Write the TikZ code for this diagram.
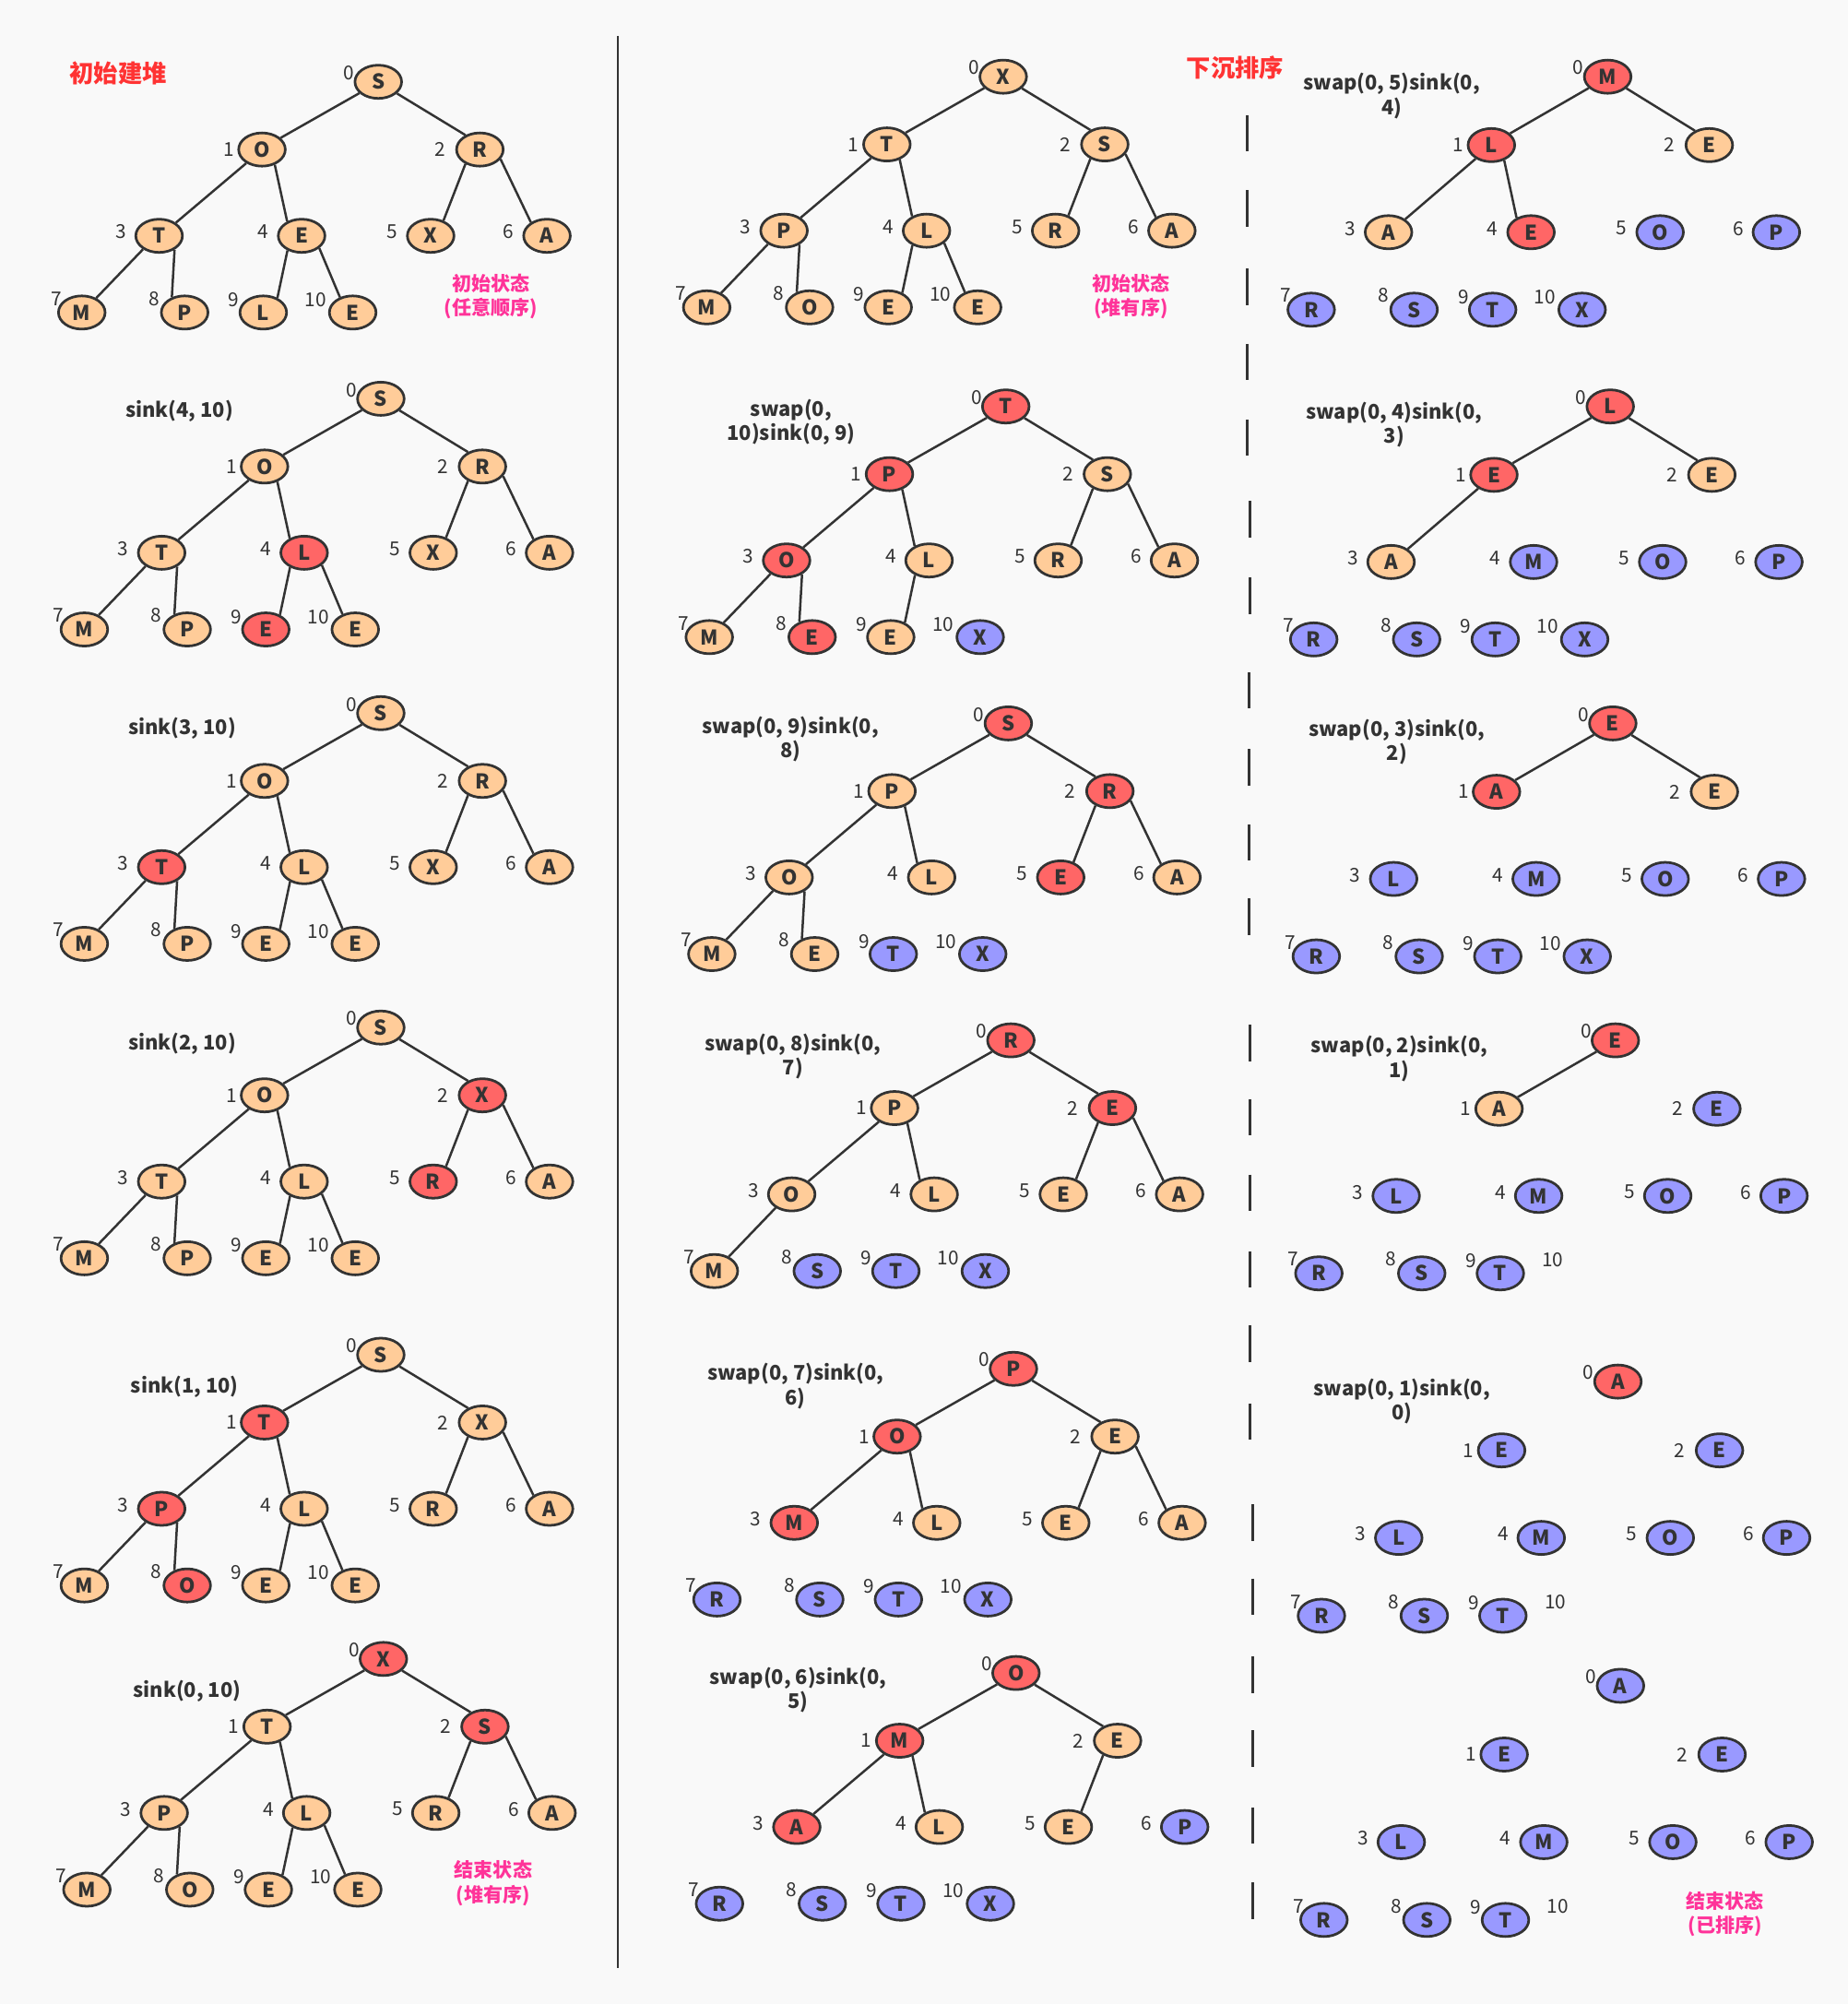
\documentclass[tikz,border=0pt]{standalone}
\usepackage{fontspec}
\setmainfont{Noto Sans CJK SC}
\usetikzlibrary{shapes.geometric,calc}
\definecolor{bgc}{HTML}{F9F9F9}
\definecolor{lnc}{HTML}{333333}
\definecolor{pch}{HTML}{FFCC99}
\definecolor{rdc}{HTML}{FF6666}
\definecolor{blc}{HTML}{9999FF}
\definecolor{ttl}{HTML}{FF3333}
\definecolor{pnk}{HTML}{FF3399}
\tikzset{
 hn/.style={ellipse, draw=lnc, line width=2pt, minimum width=36.5pt, minimum height=26pt, inner sep=0pt, font=\bfseries\fontsize{16}{16}\selectfont, text=lnc},
 ho/.style={hn, fill=pch},
 hr/.style={hn, fill=rdc},
 hb/.style={hn, fill=blc},
 idx/.style={inner sep=0pt, font=\fontsize{15}{15}\selectfont, text=lnc},
 hedge/.style={draw=lnc, line width=1.8pt},
 opl/.style={font=\bfseries\fontsize{15.8}{19}\selectfont, text=lnc, align=center, inner sep=0pt},
 ttlstyle/.style={font=\bfseries\fontsize{19}{19}\selectfont, text=ttl, inner sep=0pt},
 pinknote/.style={font=\bfseries\fontsize{15.2}{19}\selectfont, text=pnk, align=center, inner sep=0pt},
 vsep/.style={draw=lnc, line width=2pt},
}
\def\OX{{0,-91,79.5,-171.5,-60,41,132,-232,-151.5,-90,-20}}
\def\OY{{0,53,53,120.5,120.5,120.5,120.5,180.5,180.5,180.5,180.5}}
\def\LX{{-23,-26,-31,-30,-30,-30,-30,-20,-24,-23,-29}}
\def\LY{{-7,0,0,-3,-3,-3,-3,-11,-11,-10,-10}}
\def\PA{{0,-149,-32,-139,-50,-135,-25,-140,-42,-134,-35}}
\def\CA{{0,32,135,38,135,50,140,45,130,46,130}}
\newcommand\htree[5]{%
 \foreach \i/\l/\s in {#5} {%
   \pgfmathsetmacro\px{#2+\OX[\i]}%
   \pgfmathsetmacro\py{#3+#4*\OY[\i]}%
   \node[h\s] (#1n\i) at (\px,\py) {\l};
   \pgfmathsetmacro\qx{\px+\LX[\i]}%
   \pgfmathsetmacro\qy{\py+\LY[\i]}%
   \node[idx] (#1i\i) at (\qx,\qy) {\i};
 }}
\newcommand\hedges[2]{%
 \foreach \c in {#2} {%
   \pgfmathtruncatemacro\p{(\c-1)/2}%
   \pgfmathtruncatemacro\pa{\PA[\c]}%
   \pgfmathtruncatemacro\ca{\CA[\c]}%
   \draw[hedge] (#1n\p.\pa) -- (#1n\c.\ca);
 }}
\begin{document}
\begin{tikzpicture}[x=1pt,y=-1pt]
\fill[bgc] (0,0) rectangle (1446,1568);
\useasboundingbox (0,0) rectangle (1446,1568);
% separators
\draw[vsep] (483.5,28) -- (483.5,1540);
\foreach \x/\y in {976/90,976/149,976/210,976/269,976/328,978/392,978/452,977.5/526,977.5/586,977.5/645,977.5/703,978/802,978/860,978/919,978/979,978/1037,978/1098,980/1177,980/1235,980/1296,980/1354,980/1414,980/1473}
  \draw[vsep] (\x,\y) -- ++(0,28.5);
% titles
\node[ttlstyle] (t1) at (92.5,57) {初始建堆};
\node[ttlstyle] (t2) at (966.5,53) {下沉排序};
% ---------- left column
\htree{La}{296}{64}{1}{0/S/o,1/O/o,2/R/o,3/T/o,4/E/o,5/X/o,6/A/o,7/M/o,8/P/o,9/L/o,10/E/o}
\hedges{La}{1,...,10}
\node[pinknote] (na) at (384,232) {初始状态\\(任意顺序)};
\htree{Lb}{298}{312}{1}{0/S/o,1/O/o,2/R/o,3/T/o,4/L/r,5/X/o,6/A/o,7/M/o,8/P/o,9/E/r,10/E/o}
\hedges{Lb}{1,...,10}
\node[opl] (lb) at (140.5,322) {sink(4, 10)};
\htree{Lc}{298}{558}{1}{0/S/o,1/O/o,2/R/o,3/T/r,4/L/o,5/X/o,6/A/o,7/M/o,8/P/o,9/E/o,10/E/o}
\hedges{Lc}{1,...,10}
\node[opl] (lc) at (142.5,570) {sink(3, 10)};
\htree{Ld}{298}{804}{1}{0/S/o,1/O/o,2/X/r,3/T/o,4/L/o,5/R/r,6/A/o,7/M/o,8/P/o,9/E/o,10/E/o}
\hedges{Ld}{1,...,10}
\node[opl] (ld) at (142.5,817) {sink(2, 10)};
\htree{Le}{298}{1060}{1}{0/S/o,1/T/r,2/X/o,3/P/r,4/L/o,5/R/o,6/A/o,7/M/o,8/O/r,9/E/o,10/E/o}
\hedges{Le}{1,...,10}
\node[opl] (le) at (144.5,1085) {sink(1, 10)};
\htree{Lf}{300}{1298}{1}{0/X/r,1/T/o,2/S/r,3/P/o,4/L/o,5/R/o,6/A/o,7/M/o,8/O/o,9/E/o,10/E/o}
\hedges{Lf}{1,...,10}
\node[opl] (lf) at (146.5,1323) {sink(0, 10)};
\node[pinknote] (nf) at (386,1473.5) {结束状态\\(堆有序)};
% ---------- middle column
\htree{Ma}{785}{60}{1}{0/X/o,1/T/o,2/S/o,3/P/o,4/L/o,5/R/o,6/A/o,7/M/o,8/O/o,9/E/o,10/E/o}
\hedges{Ma}{1,...,10}
\node[pinknote] (nm) at (885,232) {初始状态\\(堆有序)};
\htree{Mb}{787}{318}{1}{0/T/r,1/P/r,2/S/o,3/O/r,4/L/o,5/R/o,6/A/o,7/M/o,8/E/r,9/E/o,10/X/b}
\hedges{Mb}{1,...,9}
\node[opl] (mb) at (619,330.5) {swap(0,\\10)sink(0, 9)};
\htree{Mc}{789}{566}{1}{0/S/r,1/P/o,2/R/r,3/O/o,4/L/o,5/E/r,6/A/o,7/M/o,8/E/o,9/T/b,10/X/b}
\hedges{Mc}{1,...,8}
\node[opl] (mc) at (618.5,578.5) {swap(0, 9)sink(0,\\8)};
\htree{Md}{791}{814}{1}{0/R/r,1/P/o,2/E/r,3/O/o,4/L/o,5/E/o,6/A/o,7/M/o,8/S/b,9/T/b,10/X/b}
\hedges{Md}{1,...,7}
\node[opl] (md) at (620.5,826.5) {swap(0, 8)sink(0,\\7)};
\htree{Me}{793}{1071}{1}{0/P/r,1/O/r,2/E/o,3/M/r,4/L/o,5/E/o,6/A/o,7/R/b,8/S/b,9/T/b,10/X/b}
\hedges{Me}{1,...,6}
\node[opl] (me) at (622.5,1084.5) {swap(0, 7)sink(0,\\6)};
\htree{Mf}{795}{1309}{1}{0/O/r,1/M/r,2/E/o,3/A/r,4/L/o,5/E/o,6/P/b,7/R/b,8/S/b,9/T/b,10/X/b}
\hedges{Mf}{1,...,5}
\node[opl] (mf) at (624.5,1322.5) {swap(0, 6)sink(0,\\5)};
% ---------- right column
\htree{Ra}{1258}{60}{1.01}{0/M/r,1/L/r,2/E/o,3/A/o,4/E/r,5/O/b,6/P/b,7/R/b,8/S/b,9/T/b,10/X/b}
\hedges{Ra}{1,...,4}
\node[opl] (ra) at (1089,75) {swap(0, 5)sink(0,\\4)};
\htree{Rb}{1260}{318}{1.01}{0/L/r,1/E/r,2/E/o,3/A/o,4/M/b,5/O/b,6/P/b,7/R/b,8/S/b,9/T/b,10/X/b}
\hedges{Rb}{1,...,3}
\node[opl] (rb) at (1091,332.5) {swap(0, 4)sink(0,\\3)};
\htree{Rc}{1262}{566}{1.01}{0/E/r,1/A/r,2/E/o,3/L/b,4/M/b,5/O/b,6/P/b,7/R/b,8/S/b,9/T/b,10/X/b}
\hedges{Rc}{1,2}
\node[opl] (rc) at (1093,580.5) {swap(0, 3)sink(0,\\2)};
\htree{Rd}{1264}{814}{1.01}{0/E/r,1/A/o,2/E/b,3/L/b,4/M/b,5/O/b,6/P/b,7/R/b,8/S/b,9/T/b}
\hedges{Rd}{1}
\node[idx] (Rdi10) at (1215,986) {10};
\node[opl] (rd) at (1095,828.5) {swap(0, 2)sink(0,\\1)};
\htree{Re}{1266}{1081}{1.015}{0/A/r,1/E/b,2/E/b,3/L/b,4/M/b,5/O/b,6/P/b,7/R/b,8/S/b,9/T/b}
\node[idx] (Rei10) at (1217,1253.5) {10};
\node[opl] (re) at (1097,1096.5) {swap(0, 1)sink(0,\\0)};
\htree{Rf}{1268}{1319}{1.015}{0/A/b,1/E/b,2/E/b,3/L/b,4/M/b,5/O/b,6/P/b,7/R/b,8/S/b,9/T/b}
\node[idx] (Rfi10) at (1219,1491.5) {10};
\node[pinknote] (nr) at (1350,1497.5) {结束状态\\(已排序)};
\end{tikzpicture}
\end{document}
